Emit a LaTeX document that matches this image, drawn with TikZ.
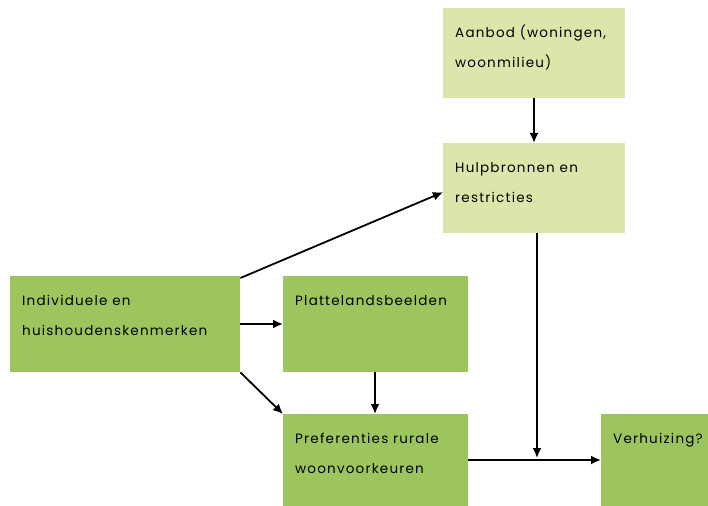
\documentclass[tikz,border=0pt]{standalone}
\usepackage{fontspec}
\setmainfont{Poppins}[LetterSpace=9]
\usetikzlibrary{arrows.meta,calc}
\definecolor{lightg}{HTML}{DCE6AA}
\definecolor{darkg}{HTML}{9DC55E}
\tikzset{
  box/.style={rectangle, inner ysep=0pt, inner xsep=12pt, anchor=north west, font=\fontsize{13.5}{30}\selectfont},
  lbox/.style={box, fill=lightg},
  dbox/.style={box, fill=darkg},
  conn/.style={line width=1.8pt, -{Latex[length=10pt,width=9pt]}},
}
\newcommand{\boxtext}[3]{\parbox[t][#2pt][t]{#1pt}{\rule{0pt}{29pt}#3}}
\begin{document}
\begin{tikzpicture}[x=1pt,y=-1pt]
\useasboundingbox (0,0) rectangle (708,505);
\node[lbox] (aan) at (443,8) {\boxtext{158}{90}{Aanbod (woningen,\\woonmilieu)}};
\node[lbox] (hulp) at (443,143) {\boxtext{158}{90}{Hulpbronnen en\\restricties}};
\node[dbox] (ind) at (10,276) {\boxtext{206}{96}{Individuele en\\huishoudenskenmerken}};
\node[dbox] (plat) at (283,276) {\boxtext{161}{96}{Plattelandsbeelden}};
\node[dbox] (pref) at (283,414) {\boxtext{161}{96}{Preferenties rurale\\woonvoorkeuren}};
\node[dbox] (verh) at (601,414) {\boxtext{95}{96}{Verhuizing?}};
\coordinate (j) at (537,460);
\draw[conn] (aan.south -| 534,0) -- (hulp.north -| 534,0);
\draw[conn] ($(ind.north east)+(0,2)$) -- ($(hulp.west)+(0,4)$);
\draw[conn] (ind.east |- 0,324) -- (plat.west |- 0,324);
\draw[conn] ($(ind.south east)$) -- ($(pref.north west)$);
\draw[conn] (plat.south -| 375,0) -- (pref.north -| 375,0);
\draw[conn] (pref.east |- j) -- (verh.west |- j);
\draw[conn] (hulp.south -| j) -- ($(j)+(0,-2)$);
\end{tikzpicture}
\end{document}
